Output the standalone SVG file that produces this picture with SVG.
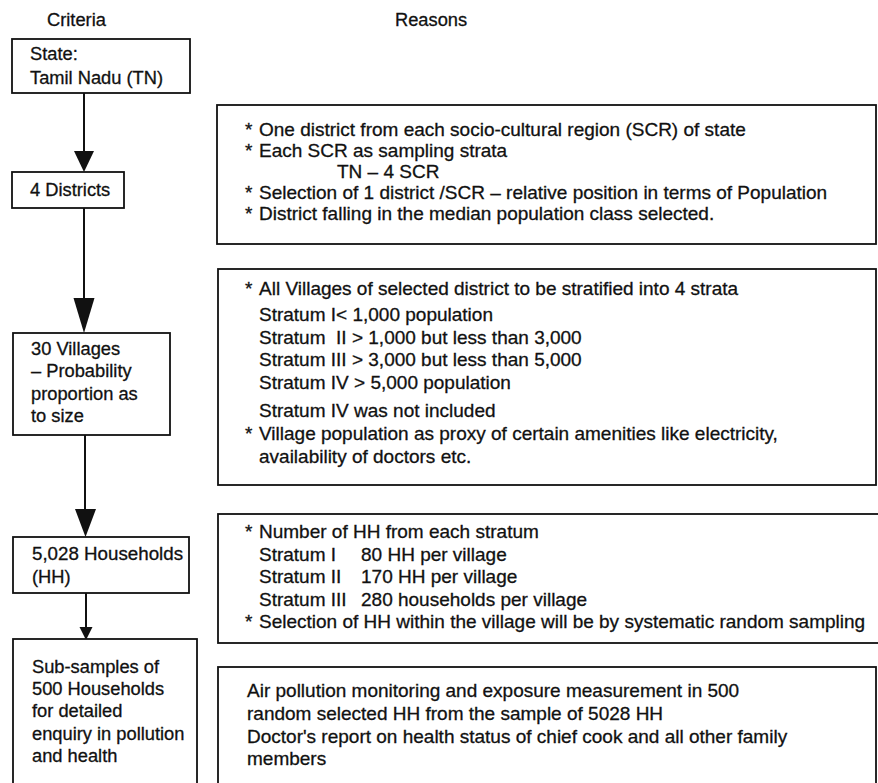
<svg xmlns="http://www.w3.org/2000/svg" width="878" height="783" viewBox="0 0 878 783">
<style>
.t{font-family:"Liberation Sans",Arial,Helvetica,sans-serif;font-size:19px;fill:#111;stroke:#111;stroke-width:0.3}
.l{font-size:18.3px}
.box{fill:#fff;stroke:#111;stroke-width:1.8}
.ln{stroke:#111;stroke-width:2;fill:none}
.hd{fill:#111}
</style>
<rect width="878" height="783" fill="#fff"/>
<g id="headers">
<text class="t l" x="47" y="26">Criteria</text>
<text class="t l" x="395" y="26">Reasons</text>
</g>
<g id="connectors">
<line class="ln" x1="84" y1="93" x2="84" y2="155"/>
<polygon class="hd" points="74,151 94,151 84,172"/>
<line class="ln" x1="84" y1="208" x2="84" y2="302"/>
<polygon class="hd" points="73.5,298 94.5,298 84,333"/>
<line class="ln" x1="85" y1="435" x2="85" y2="512"/>
<polygon class="hd" points="75,509 96,509 85.5,537"/>
<line class="ln" x1="86" y1="593" x2="86" y2="630"/>
<polygon class="hd" points="79.5,627 92.5,627 86,640"/>
</g>
<g id="state">
<rect class="box" x="12" y="39" width="178" height="54"/>
<text class="t l" x="30" y="60">State:</text>
<text class="t l" x="30" y="84">Tamil Nadu (TN)</text>
</g>
<g id="districts">
<rect class="box" x="12" y="172" width="112" height="36"/>
<text class="t l" x="30" y="196">4 Districts</text>
</g>
<g id="villages">
<rect class="box" x="13" y="333" width="157" height="102"/>
<text class="t l" x="31" y="355">30 Villages</text>
<text class="t l" x="31" y="377">– Probability</text>
<text class="t l" x="31" y="400">proportion as</text>
<text class="t l" x="31" y="422">to size</text>
</g>
<g id="households">
<rect class="box" x="13" y="537" width="176" height="56"/>
<text class="t l" x="32" y="560" textLength="151" lengthAdjust="spacingAndGlyphs">5,028 Households</text>
<text class="t l" x="32" y="583">(HH)</text>
</g>
<g id="subsamples">
<rect class="box" x="13" y="639" width="184" height="160"/>
<text class="t l" x="32" y="673">Sub-samples of</text>
<text class="t l" x="32" y="695">500 Households</text>
<text class="t l" x="32" y="717">for detailed</text>
<text class="t l" x="32" y="740">enquiry in pollution</text>
<text class="t l" x="32" y="762">and health</text>
</g>
<g id="reason1">
<rect class="box" x="217" y="105" width="659" height="139"/>
<text class="t" x="245" y="136">*</text><text class="t" x="259" y="136">One district from each socio-cultural region (SCR) of state</text>
<text class="t" x="245" y="157">*</text><text class="t" x="259" y="157">Each SCR as sampling strata</text>
<text class="t" x="337" y="178">TN – 4 SCR</text>
<text class="t" x="245" y="199">*</text><text class="t" x="259" y="199">Selection of 1 district /SCR – relative position in terms of Population</text>
<text class="t" x="245" y="220">*</text><text class="t" x="259" y="220">District falling in the median population class selected.</text>
</g>
<g id="reason2">
<rect class="box" x="218" y="269" width="658" height="216"/>
<text class="t" x="245" y="295">*</text><text class="t" x="259" y="295">All Villages of selected district to be stratified into 4 strata</text>
<text class="t" x="259" y="321">Stratum I&lt; 1,000 population</text>
<text class="t" x="259" y="343.5" xml:space="preserve">Stratum  II &gt; 1,000 but less than 3,000</text>
<text class="t" x="259" y="366">Stratum III &gt; 3,000 but less than 5,000</text>
<text class="t" x="259" y="388.5">Stratum IV &gt; 5,000 population</text>
<text class="t" x="259" y="417">Stratum IV was not included</text>
<text class="t" x="245" y="440">*</text><text class="t" x="259" y="440">Village population as proxy of certain amenities like electricity,</text>
<text class="t" x="259" y="463">availability of doctors etc.</text>
</g>
<g id="reason3">
<rect class="box" x="218" y="514" width="664" height="129"/>
<text class="t" x="245" y="538">*</text><text class="t" x="259" y="538">Number of HH from each stratum</text>
<text class="t" x="259" y="560.5">Stratum I</text><text class="t" x="361" y="560.5">80 HH per village</text>
<text class="t" x="259" y="583">Stratum II</text><text class="t" x="361" y="583">170 HH per village</text>
<text class="t" x="259" y="605.5">Stratum III</text><text class="t" x="361" y="605.5">280 households per village</text>
<text class="t" x="245" y="628">*</text><text class="t" x="259" y="628">Selection of HH within the village will be by systematic random sampling</text>
</g>
<g id="reason4">
<rect class="box" x="218" y="667" width="658" height="140"/>
<text class="t" x="247" y="697">Air pollution monitoring and exposure measurement in 500</text>
<text class="t" x="247" y="720">random selected HH from the sample of 5028 HH</text>
<text class="t" x="247" y="743">Doctor's report on health status of chief cook and all other family</text>
<text class="t" x="247" y="765">members</text>
</g>
</svg>
